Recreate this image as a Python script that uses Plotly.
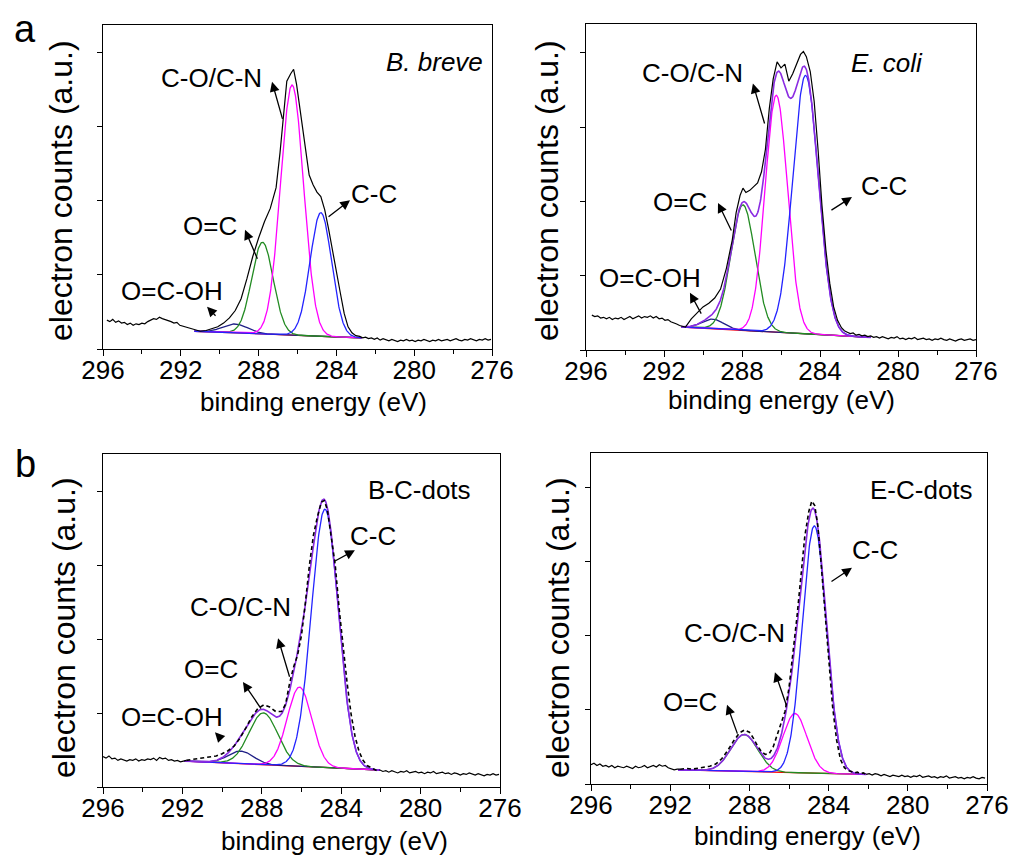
import numpy as np
import plotly.graph_objects as go

W, H = 1011, 856
FONT = "Liberation Sans, Arial, sans-serif"

# ---------------- shared axis data ----------------
X_TICKS = [296, 292, 288, 284, 280, 276]
Y_TICKS = [0, 1, 2, 3, 4]

# Raw spectra: each is a left wing (evenly sampled between the two energies given),
# an explicitly sampled peak region and a right wing (evenly sampled).

# ---------------- panel a (left): B. breve ----------------
bb_left_span = (295.8, 291.45)
bb_left_cts = [0.39, 0.37, 0.40, 0.36, 0.38, 0.35, 0.36, 0.33, 0.35, 0.32,
               0.34, 0.33, 0.35, 0.34, 0.37, 0.39, 0.41, 0.40, 0.43, 0.41,
               0.40, 0.38, 0.37, 0.35, 0.36, 0.32, 0.31, 0.29, 0.28, 0.27]
bb_peak_ev = [291.3, 291.0, 290.7, 290.4, 290.1, 289.8, 289.5, 289.2, 288.9, 288.6,
              288.3, 288.0, 287.7, 287.4, 287.1, 286.9, 286.7, 286.55, 286.35, 286.2,
              286.05, 285.9, 285.75, 285.6, 285.4, 285.2, 285.0, 284.8, 284.6, 284.4,
              284.2, 284.0, 283.8, 283.6, 283.4, 283.2, 283.0]
bb_peak_cts = [0.26, 0.24, 0.25, 0.27, 0.30, 0.35, 0.42, 0.52, 0.68, 0.95,
               1.25, 1.50, 1.72, 1.90, 2.18, 2.65, 3.20, 3.62, 3.72, 3.78,
               3.58, 3.30, 3.00, 2.70, 2.35, 2.22, 2.12, 2.06, 1.88, 1.62,
               1.35, 1.05, 0.76, 0.48, 0.30, 0.22, 0.18]
bb_right_span = (282.8, 276.05)
bb_right_cts = [0.17, 0.15, 0.16, 0.14, 0.15, 0.13, 0.15, 0.12, 0.14, 0.13,
                0.11, 0.13, 0.12, 0.10, 0.12, 0.11, 0.13, 0.11, 0.12, 0.10,
                0.12, 0.11, 0.13, 0.12, 0.10, 0.12, 0.11, 0.13, 0.11, 0.12,
                0.13, 0.11, 0.12, 0.14, 0.12, 0.11, 0.13, 0.12, 0.14, 0.12,
                0.11, 0.13, 0.12, 0.14, 0.12, 0.13]
bb_peak_names = ["O=C-OH", "O=C", "C-O/C-N", "C-C"]
bb_peak_center = [289.2, 287.8, 286.28, 284.8]
bb_peak_height = [0.12, 1.24, 3.38, 1.67]
bb_peak_fwhm = [1.5, 1.3, 1.39, 1.3]
bb_fit_range = [291.3, 282.7]
bb_baseline = [0.24, 0.15]

# ---------------- panel a (right): E. coli ----------------
ec_left_span = (295.7, 291.05)
ec_left_cts = [0.47, 0.45, 0.46, 0.43, 0.44, 0.42, 0.44, 0.41, 0.43, 0.42,
               0.44, 0.41, 0.43, 0.45, 0.42, 0.44, 0.46, 0.43, 0.45, 0.44,
               0.46, 0.43, 0.45, 0.42, 0.43, 0.40, 0.41, 0.38, 0.37, 0.35,
               0.33, 0.32]
ec_peak_ev = [290.9, 290.6, 290.3, 290.0, 289.7, 289.4, 289.1, 288.8, 288.5, 288.3,
              288.1, 287.95, 287.8, 287.6, 287.4, 287.2, 287.0, 286.8, 286.6, 286.4,
              286.2, 286.0, 285.8, 285.6, 285.4, 285.2, 285.0, 284.85, 284.7, 284.5,
              284.3, 284.1, 283.9, 283.7, 283.5, 283.3, 283.1, 282.9]
ec_peak_cts = [0.31, 0.42, 0.50, 0.58, 0.63, 0.70, 0.82, 1.10, 1.48, 1.85,
               2.08, 2.18, 2.12, 2.15, 2.20, 2.25, 2.40, 2.70, 3.25, 3.65,
               3.88, 3.80, 3.85, 3.62, 3.72, 3.85, 3.98, 4.02, 3.95, 3.75,
               3.35, 2.70, 1.95, 1.35, 0.90, 0.58, 0.40, 0.30]
ec_right_span = (282.75, 276.0)
ec_right_cts = [0.26, 0.24, 0.22, 0.23, 0.20, 0.21, 0.19, 0.20, 0.18, 0.19,
                0.17, 0.18, 0.16, 0.18, 0.17, 0.15, 0.17, 0.16, 0.18, 0.15,
                0.16, 0.14, 0.16, 0.15, 0.17, 0.14, 0.15, 0.16, 0.14, 0.15,
                0.13, 0.15, 0.14, 0.16, 0.14, 0.13, 0.15, 0.14, 0.12, 0.14,
                0.15, 0.13, 0.14, 0.15, 0.13, 0.14]
ec_peak_names = ["O=C-OH", "O=C", "C-O/C-N", "C-C"]
ec_peak_center = [289.5, 287.95, 286.24, 284.74]
ec_peak_height = [0.13, 1.69, 3.19, 3.48]
ec_peak_fwhm = [1.3, 1.45, 1.35, 1.54]
ec_fit_range = [291.1, 281.4]
ec_baseline = [0.31, 0.17]

# ---------------- panel b (left): B-C-dots ----------------
bc_left_span = (296.0, 292.1)
bc_left_cts = [0.41, 0.39, 0.42, 0.38, 0.39, 0.36, 0.38, 0.37, 0.35, 0.37,
               0.36, 0.38, 0.35, 0.37, 0.36, 0.38, 0.37, 0.39, 0.36, 0.40,
               0.38, 0.39, 0.36, 0.37, 0.35, 0.36, 0.34]
bc_peak_ev = [291.95, 291.8, 291.5, 291.2, 290.9, 290.6, 290.3, 290.0, 289.7, 289.4,
              289.1, 288.8, 288.5, 288.2, 287.9, 287.6, 287.3, 287.0, 286.8, 286.6,
              286.4, 286.2, 286.0, 285.8, 285.6, 285.4, 285.2, 285.0, 284.85, 284.7,
              284.5, 284.3, 284.1, 283.9, 283.7, 283.5, 283.3, 283.1, 282.9, 282.7,
              282.5]
bc_peak_cts = [0.35, 0.36, 0.37, 0.38, 0.39, 0.40, 0.42, 0.45, 0.49, 0.55,
               0.66, 0.80, 0.95, 1.06, 1.11, 1.08, 1.02, 1.02, 1.12, 1.40,
               1.62, 1.78, 2.05, 2.50, 3.00, 3.40, 3.65, 3.85, 3.87, 3.75,
               3.40, 3.00, 2.40, 1.85, 1.40, 0.98, 0.68, 0.48, 0.36, 0.29,
               0.26]
bc_right_span = (282.35, 276.05)
bc_right_cts = [0.24, 0.22, 0.23, 0.21, 0.22, 0.20, 0.22, 0.21, 0.19, 0.21,
                0.20, 0.22, 0.19, 0.20, 0.21, 0.19, 0.20, 0.18, 0.20, 0.19,
                0.21, 0.18, 0.19, 0.20, 0.18, 0.19, 0.17, 0.19, 0.18, 0.16,
                0.18, 0.17, 0.19, 0.17, 0.16, 0.18, 0.17, 0.15, 0.17, 0.16,
                0.18, 0.16, 0.17]
bc_peak_names = ["O=C-OH", "O=C", "C-O/C-N", "C-C"]
bc_peak_center = [289.06, 287.92, 286.1, 284.82]
bc_peak_height = [0.17, 0.70, 1.07, 3.49]
bc_peak_fwhm = [1.5, 1.7, 1.45, 1.6]
bc_fit_range = [291.9, 282.05]
bc_baseline = [0.35, 0.23]

# ---------------- panel b (right): E-C-dots ----------------
ecd_left_span = (296.0, 291.65)
ecd_left_cts = [0.26, 0.28, 0.25, 0.27, 0.24, 0.25, 0.23, 0.25, 0.22, 0.24,
                0.23, 0.22, 0.24, 0.23, 0.21, 0.24, 0.22, 0.23, 0.25, 0.22,
                0.24, 0.25, 0.23, 0.26, 0.24, 0.25, 0.22, 0.21, 0.19, 0.20]
ecd_peak_ev = [291.5, 291.2, 290.9, 290.6, 290.3, 290.0, 289.7, 289.4, 289.1, 288.8,
               288.5, 288.25, 288.0, 287.8, 287.6, 287.4, 287.2, 287.0, 286.8, 286.6,
               286.4, 286.2, 286.0, 285.8, 285.6, 285.4, 285.2, 285.0, 284.85, 284.7,
               284.55, 284.4, 284.2, 284.0, 283.8, 283.6, 283.4, 283.2, 283.0]
ecd_peak_cts = [0.20, 0.21, 0.20, 0.21, 0.22, 0.24, 0.27, 0.34, 0.45, 0.58,
                0.69, 0.73, 0.70, 0.62, 0.52, 0.44, 0.40, 0.41, 0.50, 0.65,
                0.80, 0.98, 1.30, 1.75, 2.25, 2.80, 3.35, 3.68, 3.82, 3.76,
                3.50, 3.05, 2.35, 1.65, 1.05, 0.60, 0.33, 0.22, 0.18]
ecd_right_span = (282.85, 276.1)
ecd_right_cts = [0.17, 0.15, 0.16, 0.14, 0.15, 0.13, 0.14, 0.12, 0.14, 0.13,
                 0.11, 0.13, 0.12, 0.10, 0.12, 0.11, 0.10, 0.12, 0.10, 0.11,
                 0.09, 0.11, 0.10, 0.12, 0.09, 0.10, 0.11, 0.09, 0.10, 0.08,
                 0.10, 0.09, 0.11, 0.08, 0.09, 0.10, 0.08, 0.09, 0.07, 0.09,
                 0.08, 0.10, 0.08, 0.07, 0.09, 0.08]
ecd_peak_names = ["O=C", "C-O/C-N", "C-C"]
ecd_peak_center = [288.26, 285.7, 284.72]
ecd_peak_height = [0.50, 0.80, 3.34]
ecd_peak_fwhm = [1.6, 1.43, 1.43]
ecd_fit_range = [291.6, 282.1]
ecd_baseline = [0.19, 0.13]

# ---------------- annotation content (in data units) ----------------
bb_labels = [("C-O/C-N", 290.40, 3.66), ("C-C", 282.07, 2.09), ("O=C", 290.50, 1.66), ("O=C-OH", 292.45, 0.78)]
bb_arrows = [(286.75, 3.09, 287.31, 3.61), (284.48, 1.77, 283.30, 2.01), (288.03, 1.20, 288.70, 1.61), (290.14, 0.43, 290.65, 0.57)]
bb_sample = ("<i>B. breve</i>", 278.98, 3.88)

ec_labels = [("C-O/C-N", 290.56, 3.73), ("C-C", 280.72, 2.21), ("O=C", 291.18, 1.99), ("O=C-OH", 292.72, 0.97)]
ec_arrows = [(286.82, 3.03, 287.44, 3.59), (283.49, 1.87, 282.36, 2.06), (288.51, 1.59, 289.23, 1.98), (290.05, 0.47, 290.67, 0.77)]
ec_sample = ("<i>E. coli</i>", 280.56, 3.86)

bc_labels = [("C-C", 282.40, 3.39), ("C-O/C-N", 289.05, 2.43), ("O=C", 290.56, 1.59), ("O=C-OH", 292.52, 0.95)]
bc_arrows = [(284.41, 3.04, 283.31, 3.20), (286.58, 1.47, 287.18, 2.01), (287.99, 1.04, 288.95, 1.42), (290.01, 0.64, 290.36, 0.74)]
bc_sample = ("B-C-dots", 280.08, 4.01)

ecd_labels = [("C-C", 281.66, 3.16), ("C-O/C-N", 288.73, 2.04), ("O=C", 291.0, 1.11)]
ecd_arrows = [(283.93, 2.72, 282.82, 2.92), (286.10, 1.04, 286.71, 1.51), (288.58, 0.66, 289.13, 1.07)]
ecd_sample = ("E-C-dots", 279.33, 3.97)

# ---------------- styling ----------------
COMP_COLORS = {"O=C-OH": "#1f1f86", "O=C": "#228b22", "C-O/C-N": "#ff00ff", "C-C": "#2323ff"}
ENV_COLOR = "#8a2be2"
BASE_COLOR = "#ff0000"


def raw_spectrum(left_span, left_cts, peak_ev, peak_cts, right_span, right_cts):
    ev = np.concatenate([np.linspace(left_span[0], left_span[1], len(left_cts)),
                         np.array(peak_ev, dtype=float),
                         np.linspace(right_span[0], right_span[1], len(right_cts))])
    cts = np.concatenate([left_cts, peak_cts, right_cts]).astype(float)
    return ev, cts


# panel boxes in pixels: (left, right, top, bottom)
panels = [
    dict(box=(103, 492, 25, 349), ytop=4.378,
         raw=raw_spectrum(bb_left_span, bb_left_cts, bb_peak_ev, bb_peak_cts, bb_right_span, bb_right_cts),
         names=bb_peak_names, c=bb_peak_center, h=bb_peak_height, w=bb_peak_fwhm, fit=bb_fit_range,
         base=bb_baseline, env=False, dashed=False, labels=bb_labels, arrows=bb_arrows, sample=bb_sample,
         xtitle=(313, 402), ytitle=(61, 191)),
    dict(box=(586, 976, 24, 350), ytop=4.39,
         raw=raw_spectrum(ec_left_span, ec_left_cts, ec_peak_ev, ec_peak_cts, ec_right_span, ec_right_cts),
         names=ec_peak_names, c=ec_peak_center, h=ec_peak_height, w=ec_peak_fwhm, fit=ec_fit_range,
         base=ec_baseline, env=True, dashed=False, labels=ec_labels, arrows=ec_arrows, sample=ec_sample,
         xtitle=(781, 400), ytitle=(547, 191)),
    dict(box=(103, 500, 454, 787), ytop=4.5,
         raw=raw_spectrum(bc_left_span, bc_left_cts, bc_peak_ev, bc_peak_cts, bc_right_span, bc_right_cts),
         names=bc_peak_names, c=bc_peak_center, h=bc_peak_height, w=bc_peak_fwhm, fit=bc_fit_range,
         base=bc_baseline, env=True, dashed=True, labels=bc_labels, arrows=bc_arrows, sample=bc_sample,
         xtitle=(334, 841), ytitle=(64, 628)),
    dict(box=(591, 987, 453, 784), ytop=4.47,
         raw=raw_spectrum(ecd_left_span, ecd_left_cts, ecd_peak_ev, ecd_peak_cts, ecd_right_span, ecd_right_cts),
         names=ecd_peak_names, c=ecd_peak_center, h=ecd_peak_height, w=ecd_peak_fwhm, fit=ecd_fit_range,
         base=ecd_baseline, env=True, dashed=True, labels=ecd_labels, arrows=ecd_arrows, sample=ecd_sample,
         xtitle=(807, 836), ytitle=(558, 628)),
]


def gauss(x, c, h, w):
    return h * np.exp(-4.0 * np.log(2.0) * (x - c) ** 2 / w ** 2)


fig = go.Figure()
layout = dict(template="none", width=W, height=H,
              margin=dict(l=0, r=0, t=0, b=0, pad=0, autoexpand=False), paper_bgcolor="white",
              plot_bgcolor="white", showlegend=False, font=dict(family=FONT, color="black"))
annotations = []

for i, p in enumerate(panels):
    k = "" if i == 0 else str(i + 1)
    xr, yr = "x" + k, "y" + k
    L, R, T, B = p["box"]
    layout["xaxis" + k] = dict(
        domain=[L / W, R / W], anchor=yr, range=[296, 276], tickmode="array", tickvals=X_TICKS,
        ticktext=[str(v) for v in X_TICKS], ticks="outside", ticklen=6, tickwidth=1.2, tickcolor="black",
        ticklabelstandoff=-8,
        showline=True, linecolor="black", linewidth=1.2, mirror=True, showgrid=False, zeroline=False,
        automargin=False, tickfont=dict(family=FONT, size=26, color="black"),
        minor=dict(tickmode="linear", tick0=0, dtick=2, ticks="outside", ticklen=4, tickwidth=1.2,
                   tickcolor="black", showgrid=False))
    layout["yaxis" + k] = dict(
        domain=[1 - B / H, 1 - T / H], anchor=xr, range=[0, p["ytop"]], tickmode="array", tickvals=Y_TICKS,
        ticks="outside", ticklen=5, tickwidth=1.2, tickcolor="black", showticklabels=False,
        showline=True, linecolor="black", linewidth=1.2, mirror=True, showgrid=False, zeroline=False,
        automargin=False)

    ev, cts = p["raw"]

    # fitted components on linear background
    xf = np.linspace(p["fit"][0], p["fit"][1], 500)
    bg = p["base"][0] + (p["base"][1] - p["base"][0]) * (xf - p["fit"][0]) / (p["fit"][1] - p["fit"][0])
    fig.add_trace(go.Scatter(x=xf, y=bg, mode="lines", line=dict(color=BASE_COLOR, width=1.3),
                             xaxis=xr, yaxis=yr, hoverinfo="skip"))
    env = bg.copy()
    for name, c, h, w in zip(p["names"], p["c"], p["h"], p["w"]):
        g = gauss(xf, c, h, w)
        env = env + g
        fig.add_trace(go.Scatter(x=xf, y=bg + g, mode="lines", name=name,
                                 line=dict(color=COMP_COLORS[name], width=1.3), xaxis=xr, yaxis=yr))
    if p["env"]:
        fig.add_trace(go.Scatter(x=xf, y=env, mode="lines", name="envelope",
                                 line=dict(color=ENV_COLOR, width=1.6), xaxis=xr, yaxis=yr))

    # raw spectrum
    if p["dashed"]:
        inside = (ev <= p["fit"][0]) & (ev >= p["fit"][1])
        solid = np.where(inside, np.nan, cts)
        idx = np.where(inside)[0]
        if len(idx):
            solid[idx[0]] = cts[idx[0]]
            solid[idx[-1]] = cts[idx[-1]]
        fig.add_trace(go.Scatter(x=ev, y=solid, mode="lines", line=dict(color="black", width=1.2),
                                 connectgaps=False, xaxis=xr, yaxis=yr))
        fig.add_trace(go.Scatter(x=ev[inside], y=cts[inside], mode="lines",
                                 line=dict(color="black", width=1.6, dash="4px,3px"), xaxis=xr, yaxis=yr))
    else:
        fig.add_trace(go.Scatter(x=ev, y=cts, mode="lines", line=dict(color="black", width=1.2),
                                 xaxis=xr, yaxis=yr))

    # labels
    for text, lx, ly in p["labels"]:
        annotations.append(dict(x=lx, y=ly, xref=xr, yref=yr, text=text, showarrow=False,
                                font=dict(family=FONT, size=26, color="black"),
                                xanchor="center", yanchor="middle"))
    for tx, ty, hx, hy in p["arrows"]:
        annotations.append(dict(x=hx, y=hy, ax=tx, ay=ty, xref=xr, yref=yr, axref=xr, ayref=yr,
                                text="", showarrow=True, arrowhead=2, arrowsize=1.5, arrowwidth=1.3,
                                arrowcolor="black"))
    st, sx, sy = p["sample"]
    annotations.append(dict(x=sx, y=sy, xref=xr, yref=yr, text=st, showarrow=False,
                            font=dict(family=FONT, size=26, color="black"),
                            xanchor="center", yanchor="middle"))

    # axis titles
    tx_, ty_ = p["xtitle"]
    annotations.append(dict(x=tx_ / W, y=1 - ty_ / H, xref="paper", yref="paper",
                            text="binding energy (eV)", showarrow=False,
                            font=dict(family=FONT, size=26, color="black"),
                            xanchor="center", yanchor="middle"))
    yx_, yy_ = p["ytitle"]
    annotations.append(dict(x=yx_ / W, y=1 - yy_ / H, xref="paper", yref="paper",
                            text="electron counts (a.u.)", showarrow=False, textangle=-90,
                            font=dict(family=FONT, size=32, color="black"),
                            xanchor="center", yanchor="middle"))

# panel letters
for letter, lx, ly in [("a", 25, 29), ("b", 25, 464)]:
    annotations.append(dict(x=lx / W, y=1 - ly / H, xref="paper", yref="paper", text=letter,
                            showarrow=False, font=dict(family=FONT, size=38, color="black"),
                            xanchor="center", yanchor="middle"))

layout["annotations"] = annotations
fig.update_layout(**layout)
fig.write_html("out.html", config={"displayModeBar": False},
               post_script="document.body.style.margin='0';document.body.style.overflow='hidden';")
